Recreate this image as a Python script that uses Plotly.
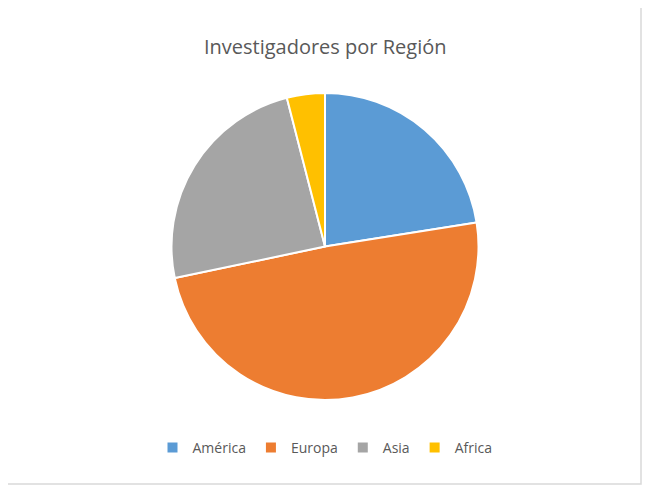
import plotly.graph_objects as go

labels = ["América", "Europa", "Asia", "Africa"]
values = [22.5, 49.2, 24.3, 4.0]
colors = ["#5B9BD5", "#ED7D31", "#A5A5A5", "#FFC000"]

fig = go.Figure(go.Pie(
    labels=labels, values=values, sort=False, direction="clockwise", rotation=0,
    marker=dict(colors=colors, line=dict(color="white", width=2)),
    textinfo="none", hoverinfo="label+value",
))
fig.update_layout(
    width=650, height=493,
    margin=dict(l=0, r=16, t=85, b=101),
    paper_bgcolor="white",
    font=dict(family="Open Sans, sans-serif", color="#595959"),
    title=dict(text="Investigadores por Región", x=0.488, xanchor="center", y=0.92, yanchor="middle",
               font=dict(size=20, color="#595959")),
    legend=dict(orientation="h", x=0.5, xanchor="center", y=-0.156, yanchor="middle",
                font=dict(size=14, color="#595959"), traceorder="normal"),
    shapes=[dict(type="rect", xref="paper", yref="paper",
                 x0=-2/634, x1=633/634, y0=-0.274, y1=1.283,
                 line=dict(color="#D9D9D9", width=1.5))],
)
fig.write_html("out.html")
